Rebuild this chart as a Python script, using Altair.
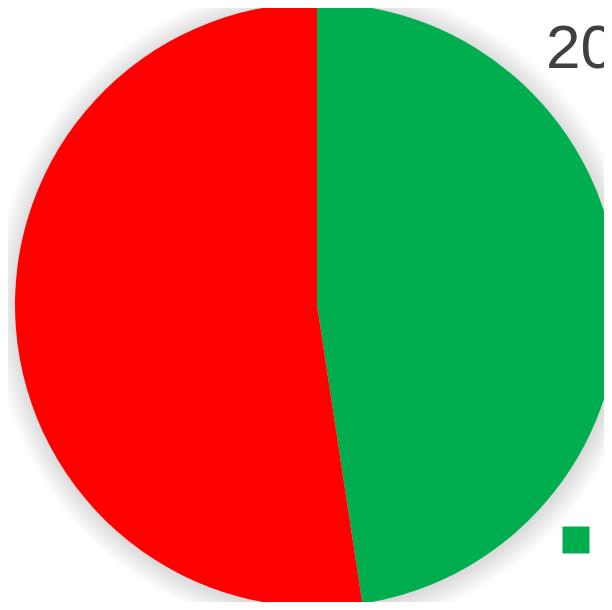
import altair as alt
import pandas as pd

categories = ["Sí", "No"]
values = [47.6, 52.4]
colors = ["#00ad4f", "#ff0000"]
title_text = "2020"

df = pd.DataFrame({"cat": categories, "val": values, "ord": list(range(len(categories)))})

CX, CY, R = 309, 297, 302

ring_df = pd.DataFrame({"v": [1]})
shadow_layers = [
    alt.Chart(ring_df).mark_arc(color="black", opacity=0.012, radius=R + k).encode(
        theta=alt.Theta("v:Q", stack=False, scale=alt.Scale(domain=[0, 1])),
        x=alt.value(CX + 1),
        y=alt.value(CY + 2),
    )
    for k in range(1, 25, 2)
]

pie = alt.Chart(df).mark_arc(radius=R).encode(
    theta=alt.Theta("val:Q", stack=True),
    order=alt.Order("ord:Q"),
    color=alt.Color(
        "cat:N",
        scale=alt.Scale(domain=categories, range=colors),
        sort=categories,
        legend=alt.Legend(
            title=None,
            orient="none",
            legendX=545,
            legendY=509,
            symbolType="square",
            symbolSize=729,
            symbolStrokeWidth=0,
            labelFontSize=46,
            labelColor="#404040",
            labelFont="Liberation Sans",
            rowPadding=50,
            labelOffset=10,
        ),
    ),
    x=alt.value(CX),
    y=alt.value(CY),
)

title = alt.Chart(pd.DataFrame({"t": [title_text]})).mark_text(
    align="left", baseline="alphabetic", fontSize=62, color="#404040", font="Liberation Sans"
).encode(text="t:N", x=alt.value(538), y=alt.value(60))

chart = alt.layer(*shadow_layers, pie, title).resolve_scale(theta="independent").properties(
    width=596, height=594, autosize=alt.AutoSizeParams(type="none"), padding=0
).configure_view(stroke=None)

chart.save("out.html", embed_options={"renderer": "svg", "actions": False})
